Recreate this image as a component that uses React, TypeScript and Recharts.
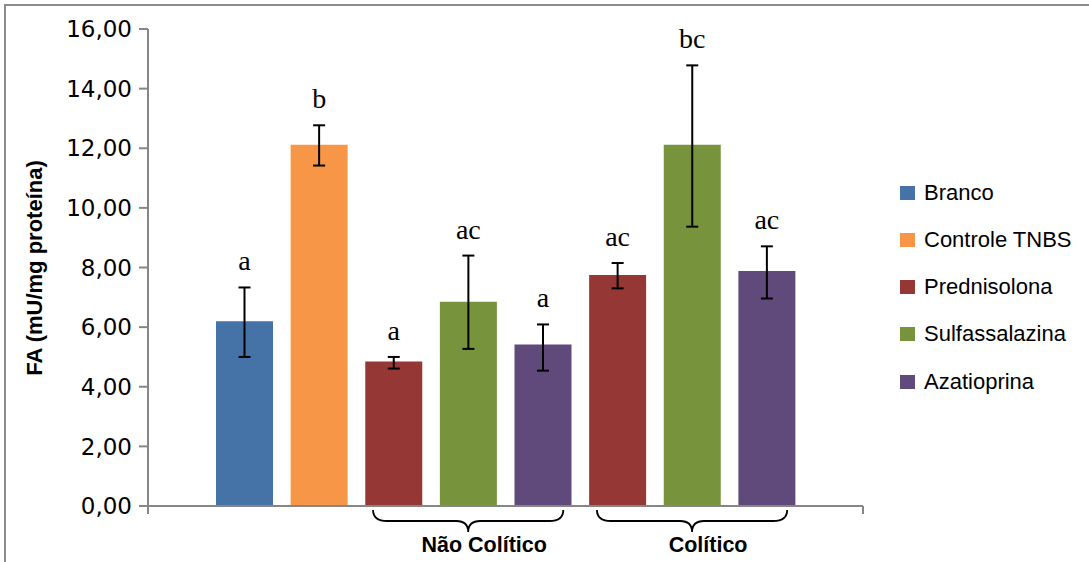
import React from "react";
import { Bar, BarChart, Cell, ErrorBar, LabelList, XAxis, YAxis } from "recharts";

// treatments shown in the legend
const treatments = ["Branco", "Controle TNBS", "Prednisolona", "Sulfassalazina", "Azatioprina"];
const treatmentColors = ["#4572A7", "#F79646", "#953735", "#77933C", "#604A7B"];

// one entry per bar, left to right
const barTreatment = [0, 1, 2, 3, 4, 2, 3, 4];
const barMeans = [6.2, 12.12, 4.85, 6.85, 5.42, 7.75, 12.12, 7.88];
const errLow = [1.2, 0.7, 0.24, 1.58, 0.88, 0.45, 2.75, 0.92];
const errHigh = [1.13, 0.65, 0.15, 1.55, 0.67, 0.4, 2.66, 0.83];
const letters = ["a", "b", "a", "ac", "a", "ac", "bc", "ac"];

const yTicks = [0, 2, 4, 6, 8, 10, 12, 14, 16];
const conditionGroups = [
  { label: "Não Colítico", first: 2, last: 4 },
  { label: "Colítico", first: 5, last: 7 },
];

const W = 1089;
const H = 562;
const PLOT_LEFT = 148;
const PLOT_RIGHT = 863;
const PLOT_TOP = 29;
const PLOT_BOTTOM = 506;
const PAD = 59;
const BAR = 57;
const BAND = (PLOT_RIGHT - PLOT_LEFT - 2 * PAD) / barMeans.length;
const AXIS_GRAY = "#868686";

const data = barMeans.map((v, i) => ({
  id: i,
  value: v,
  err: [errLow[i], errHigh[i]],
  letter: letters[i],
}));

const fmt = (v: number) => v.toFixed(2).replace(".", ",");

function GroupTick(props: any) {
  const x = Number(props.x);
  const y = Number(props.y);
  const id = Number(props.payload?.value);
  const items: React.ReactNode[] = [];

  if (id === 0) {
    const ex = x - BAND / 2 - PAD;
    items.push(<line key="l" x1={ex} x2={ex} y1={y} y2={y + 8} stroke={AXIS_GRAY} strokeWidth={2} />);
  }
  if (id === barMeans.length - 1) {
    const ex = x + BAND / 2 + PAD;
    items.push(<line key="r" x1={ex} x2={ex} y1={y} y2={y + 8} stroke={AXIS_GRAY} strokeWidth={2} />);
  }

  conditionGroups.forEach((g) => {
    if (id !== (g.first + g.last) / 2) return;
    const half = ((g.last - g.first) / 2) * BAND + BAR / 2 - 8;
    const x1 = x - half;
    const x2 = x + half;
    const y0 = y + 4;
    const ym = y0 + 11;
    const d = `M ${x1} ${y0} Q ${x1} ${ym} ${x1 + 14} ${ym} L ${x - 12} ${ym} Q ${x} ${ym} ${x} ${y0 + 22} Q ${x} ${ym} ${x + 12} ${ym} L ${x2 - 14} ${ym} Q ${x2} ${ym} ${x2} ${y0}`;
    items.push(<path key={g.label + "b"} d={d} fill="none" stroke="#000" strokeWidth={1.8} />);
    items.push(
      <text
        key={g.label + "t"}
        x={x + 16}
        y={y + 46}
        textAnchor="middle"
        fontFamily="Liberation Sans"
        fontWeight="bold"
        fontSize={21.5}
        fill="#000"
      >
        {g.label}
      </text>
    );
  });

  return <g>{items}</g>;
}

function LetterLabel(props: any) {
  const i = Number(props.index);
  const x = Number(props.x);
  const y = Number(props.y);
  const w = Number(props.width);
  const h = Number(props.height);
  const top = y - (errHigh[i] * h) / barMeans[i];
  return (
    <text x={x + w / 2} y={top - 17} textAnchor="middle" fontFamily="Liberation Serif" fontSize={28} fill="#000">
      {props.value}
    </text>
  );
}

export default function App() {
  return (
    <div style={{ position: "absolute", left: 0, top: 0, width: W, height: H, overflow: "hidden", background: "#fff" }}>
      <div
        style={{
          position: "absolute",
          left: 4,
          top: 4,
          width: W + 100,
          height: H + 100,
          border: "2px solid #8c8c8c",
        }}
      />
      <BarChart
        width={W}
        height={H}
        data={data}
        margin={{ top: PLOT_TOP, right: W - PLOT_RIGHT, bottom: H - PLOT_BOTTOM - 30, left: 0 }}
        barSize={BAR}
        style={{ position: "absolute", left: 0, top: 0 }}
      >
        <XAxis
          dataKey="id"
          height={30}
          interval={0}
          padding={{ left: PAD, right: PAD }}
          tickLine={false}
          tickSize={0}
          tickMargin={0}
          axisLine={{ stroke: AXIS_GRAY, strokeWidth: 2 }}
          tick={<GroupTick />}
        />
        <YAxis
          width={PLOT_LEFT}
          domain={[0, 16]}
          ticks={yTicks}
          tickFormatter={fmt}
          tickSize={9}
          tickMargin={7}
          axisLine={{ stroke: AXIS_GRAY, strokeWidth: 2 }}
          tickLine={{ stroke: AXIS_GRAY, strokeWidth: 2 }}
          tick={{ fill: "#000", fontFamily: "DejaVu Sans", fontSize: 23 }}
        />
        <Bar dataKey="value" isAnimationActive={false}>
          {data.map((d, i) => (
            <Cell key={d.id} fill={treatmentColors[barTreatment[i]]} />
          ))}
          <ErrorBar dataKey="err" width={6} stroke="#000" strokeWidth={2} isAnimationActive={false} />
          <LabelList dataKey="letter" content={<LetterLabel />} />
        </Bar>
      </BarChart>

      <div
        style={{
          position: "absolute",
          left: 35,
          top: 268,
          transform: "translate(-50%, -50%) rotate(-90deg)",
          whiteSpace: "nowrap",
          fontFamily: "Liberation Sans",
          fontWeight: "bold",
          fontSize: 22,
          color: "#000",
        }}
      >
        FA (mU/mg proteína)
      </div>

      <div style={{ position: "absolute", left: 900, top: 169, fontFamily: "Liberation Sans", fontSize: 22, color: "#000" }}>
        {treatments.map((t, i) => (
          <div key={t} style={{ display: "flex", alignItems: "center", height: 47.25 }}>
            <div style={{ width: 15, height: 14, background: treatmentColors[i], marginRight: 9 }} />
            <span>{t}</span>
          </div>
        ))}
      </div>
    </div>
  );
}
